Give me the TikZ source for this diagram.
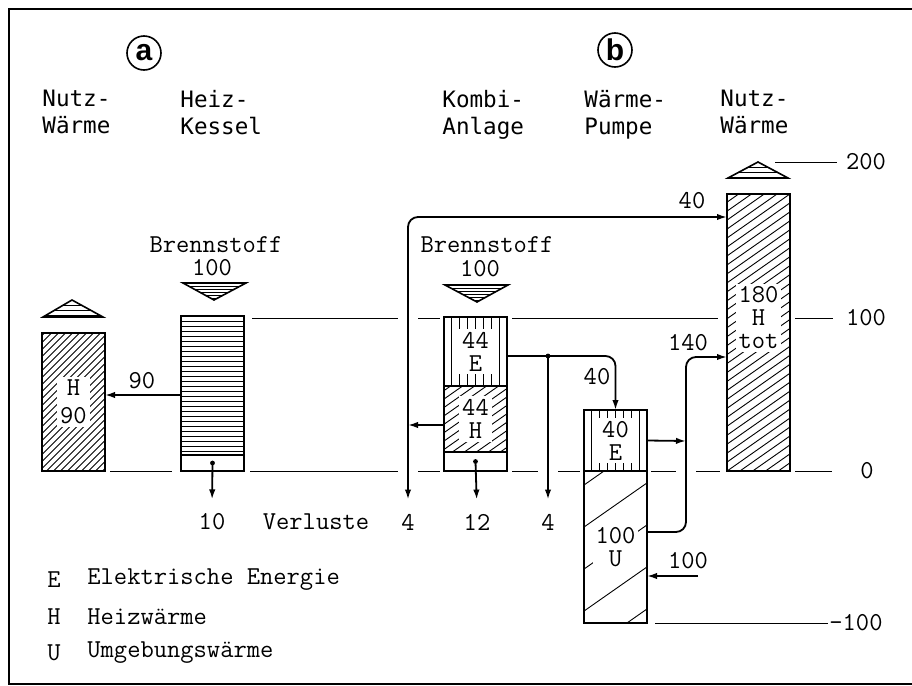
\documentclass[tikz,border=0pt]{standalone}
\usepackage{fontspec}
\newfontfamily\headfont{DejaVu Sans Mono}
\newfontfamily\markfont{Liberation Sans}
\usetikzlibrary{arrows.meta,positioning}

\begin{document}
\begin{tikzpicture}[x=0.5pt,y=-0.5pt,
  seg/.style={draw,line width=1pt,inner sep=0pt,outer sep=0pt,anchor=north west,minimum width=31.5pt},
  hatch/.style={line width=0.45pt},
  hlines/.style={path picture={\foreach \k in {1,...,60}
      \draw[hatch] ([yshift=-\k*#1]path picture bounding box.north west) -- ([yshift=-\k*#1]path picture bounding box.north east);}},
  vlines/.style={path picture={\foreach \k in {1,...,7}
      \draw[hatch] ([xshift=\k*#1]path picture bounding box.north west) -- ([xshift=\k*#1]path picture bounding box.south west);}},
  diag/.style 2 args={path picture={\foreach \k in {-40,...,40}
      \draw[hatch] ([xshift=\k*#1]path picture bounding box.center) ++(#2:-200pt) -- ++(#2:400pt);}},
  lbl/.style={fill=white,inner sep=1.5pt,align=center,font=\ttfamily\fontsize{12.9}{11.5}\selectfont},
  num/.style={font=\ttfamily\fontsize{12.9}{13}\selectfont,inner sep=2pt},
  head/.style={anchor=north west,align=left,inner sep=0pt,font=\headfont\fontsize{11.3}{13.5}\selectfont},
  circmark/.style={draw,circle,line width=0.8pt,minimum size=17pt,inner sep=0pt,font=\markfont\bfseries\fontsize{15}{15}\selectfont},
  level/.style={line width=0.5pt},
  arr/.style={-{Latex[length=5pt,width=3.2pt]},line width=0.9pt},
  tri/.style={draw,line width=0.8pt}
]
\useasboundingbox (0,0) rectangle (912,686);
\draw[line width=1pt] (912,9) -- (9,9) -- (9,684) -- (912,684);

% titles
\node[circmark] (markA) at (144,53) {a};
\node[circmark] (markB) at (615,50) {b};
\node[head] (hNutzA) at (42,90) {Nutz-\\Wärme};
\node[head] (hKessel) at (180,90) {Heiz-\\Kessel};
\node[head] (hKombi) at (442,90) {Kombi-\\Anlage};
\node[head] (hPumpe) at (584,90) {Wärme-\\Pumpe};
\node[head] (hNutzB) at (720,90) {Nutz-\\Wärme};

% fuel input
\node[num] (fuelA) at (216,245) {Brennstoff};
\node[num] (fuelAval) at (212,268) {100};
\node[num] (fuelB) at (487,245) {Brennstoff};
\node[num] (fuelBval) at (480,269) {100};
\path[tri,hlines=1.5pt] (183,283) -- (246,283) -- (214,300) -- cycle;
\path[tri,hlines=1.5pt] (445,285) -- (508,285) -- (477,302) -- cycle;
\path[tri,hlines=2.5pt] (43,317) -- (72,300) -- (103,317) -- cycle;
\path[tri,hlines=2.5pt] (728,178) -- (758,162) -- (788,178) -- cycle;

% columns
\node[seg,diag={3.5pt}{45},minimum height=69pt] (nutzA) at (42,333) {};
\node[seg,hlines=2.5pt,minimum height=69.5pt] (kesselF) at (181,316) {};
\node[seg,minimum height=8pt,below=0pt of kesselF] (kesselV) {};
\node[seg,vlines=3.94pt,minimum height=34.5pt] (kombiE) at (444,317) {};
\node[seg,diag={6pt}{35},minimum height=33pt,below=0pt of kombiE] (kombiH) {};
\node[seg,minimum height=9.5pt,below=0pt of kombiH] (kombiV) {};
\node[seg,vlines=3.94pt,minimum height=30.5pt] (wpE) at (584,410) {};
\node[seg,diag={30pt}{35},minimum height=76pt,below=0pt of wpE] (wpU) {};
\node[seg,diag={6.4pt}{35},minimum height=138.5pt] (nutzB) at (727,194) {};

\node[lbl] (lNutzA) at (nutzA) {H\\[2.5pt]90};
\node[lbl] (lKombiE) at (kombiE) {44\\E};
\node[lbl] (lKombiH) at (kombiH) {44\\H};
\node[lbl] (lWpE) at (wpE) {40\\E};
\node[lbl] (lWpU) at (wpU) {100\\U};
\node[lbl,yshift=7.25pt] (lNutzB) at (nutzB) {180\\H\\tot};

% levels
\draw[level] (775,162) -- (837,162);
\draw[level] (252,318) -- (398,318) (418,318) -- (440,318) (512,318) -- (718,318) (795,318) -- (833,318);
\draw[level] (110,471) -- (172,471) (250,471) -- (398,471) (418,471) -- (440,471) (512,471) -- (538,471)
  (558,471) -- (580,471) (651,471) -- (676,471) (696,471) -- (720,471) (795,471) -- (832,471);
\draw[level] (655,623) -- (828,623);
\node[num] (v200) at (866,162) {200};
\node[num] (v100) at (866,318) {100};
\node[num] (v0) at (867,471) {0};
\node[num,anchor=west,inner sep=0pt] (vm100) at (829,623) {-100};

% losses
\node[num] (lossA) at (212,522) {10};
\node[num] (verl) at (316,522) {Verluste};
\node[num] (lossL) at (408,522) {4};
\node[num] (lossK) at (477,522) {12};
\node[num] (lossR) at (548,522) {4};

% flows a
\draw[arr] (kesselF.west |- 0,395) -- (nutzA.east |- 0,395);
\node[num] (qA) at (142,381) {90};
\fill (kesselV.center) circle (1.2pt);
\draw[arr,shorten >=5pt] (kesselV.center) -- (lossA.north);

% flows b
\coordinate (jL) at (408,425);
\draw[arr] (kombiH.west |- jL) -- (jL);
\draw[arr,rounded corners=5pt] (jL) |- (nutzB.west |- 0,217);
\draw[arr,shorten >=5pt] (jL) -- (lossL.north);
\node[num] (qTop) at (692,201) {40};
\fill (kombiV.center) circle (1.2pt);
\draw[arr,shorten >=5pt] (kombiV.center) -- (lossK.north);
\coordinate (jR) at (548,356);
\draw[arr,rounded corners=5pt] (kombiE.east |- jR) -| (wpE.north);
\fill (jR) circle (1.2pt);
\draw[arr,shorten >=5pt] (jR) -- (lossR.north);
\node[num] (qE) at (597,377) {40};
\coordinate (jH) at (686,441);
\draw[arr] (wpE.east) -- (jH);
\draw[arr,rounded corners=5pt] (wpU.east |- 0,532) -| (686,357) -- (nutzB.west |- 0,357);
\node[num] (qTot) at (688,343) {140};
\coordinate (envIn) at (698,576);
\draw[arr] (envIn) -- (wpU.east |- envIn);
\node[num] (qEnv) at (688,561) {100};

% legend
\node[num,anchor=west] (kE) at (43,580) {E};
\node[num,anchor=west] (tE) at (83,580) {Elektrische Energie};
\node[num,anchor=west] (kH) at (43,617) {H};
\node[num,anchor=west] (tH) at (83,617) {Heizwärme};
\node[num,anchor=west] (kU) at (43,653) {U};
\node[num,anchor=west] (tU) at (83,653) {Umgebungswärme};
\end{tikzpicture}
\end{document}
